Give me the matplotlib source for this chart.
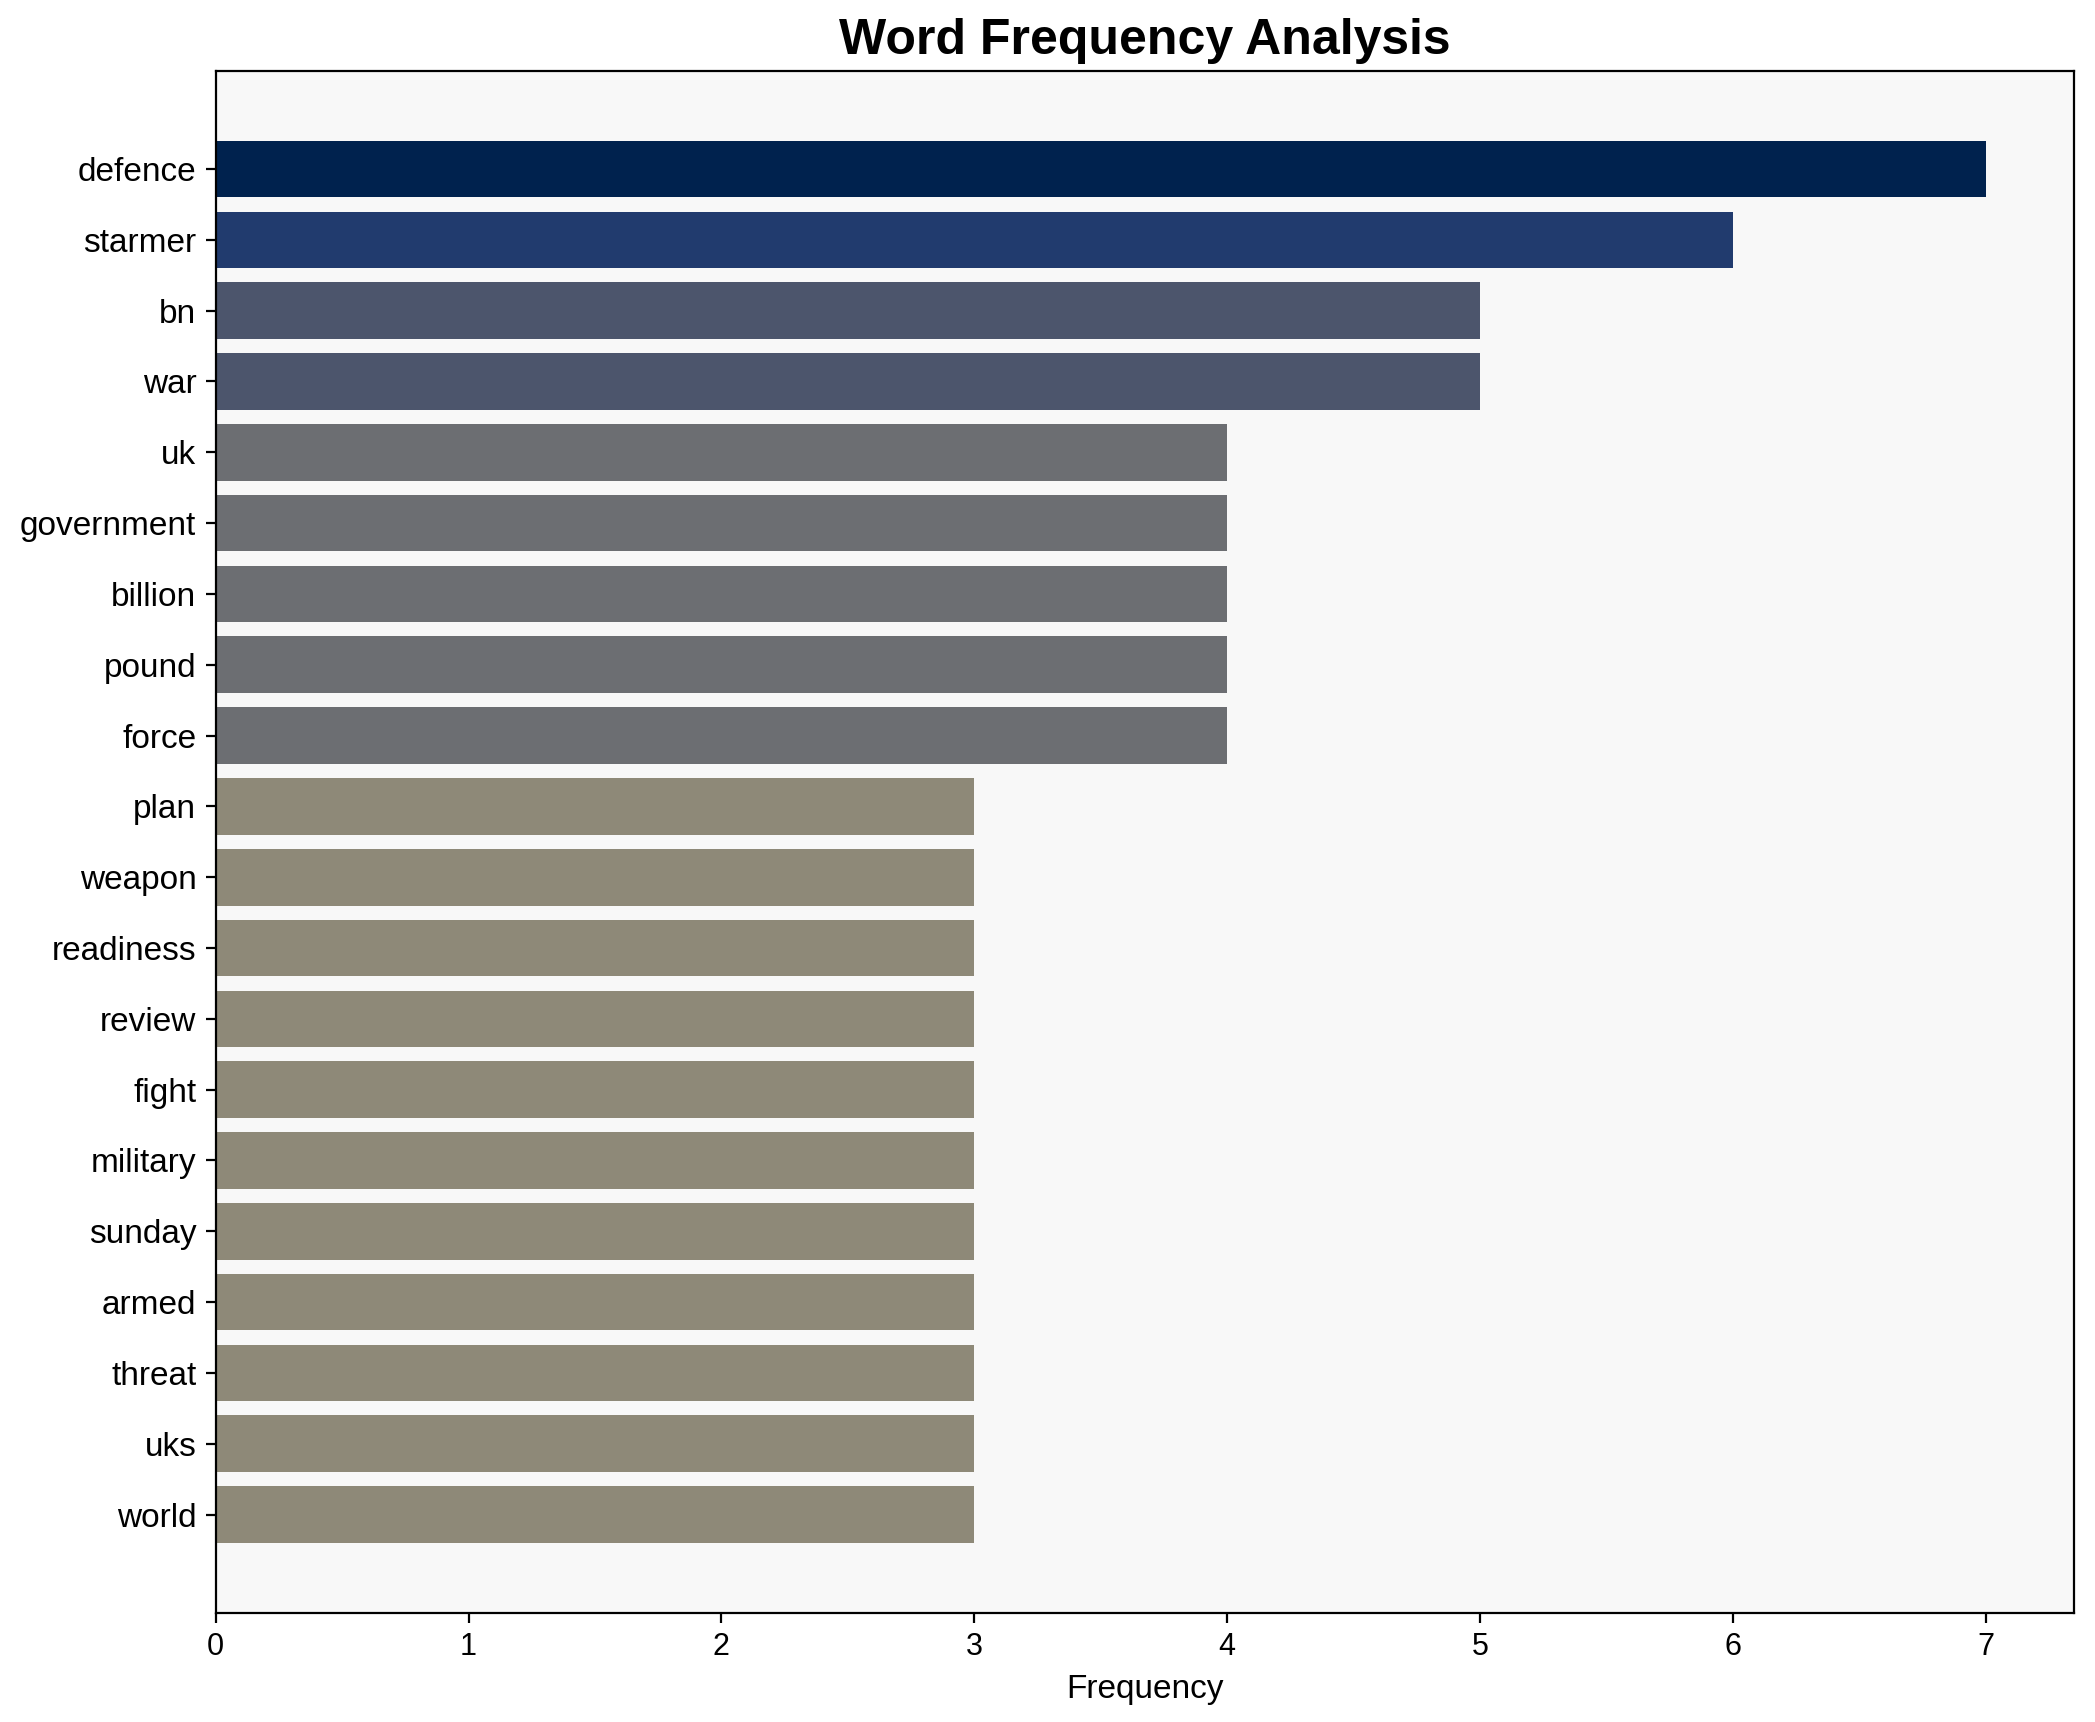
import matplotlib
matplotlib.use("Agg")
import matplotlib.pyplot as plt
import numpy as np

# word counts
words = ["defence", "starmer", "bn", "war", "uk", "government", "billion", "pound",
         "force", "plan", "weapon", "readiness", "review", "fight", "military",
         "sunday", "armed", "threat", "uks", "world"]
counts = [7, 6, 5, 5, 4, 4, 4, 4, 4, 3, 3, 3, 3, 3, 3, 3, 3, 3, 3, 3]

plt.rcParams['font.family'] = ['Liberation Sans', 'DejaVu Sans']

fig = plt.figure(figsize=(2095 / 200, 1722 / 200), dpi=200)
ax = fig.add_axes([0.103, 0.0633, 0.887, 0.8957])
ax.set_facecolor('#f8f8f8')

vals = np.array(counts)
colors = plt.cm.cividis(1 - vals / vals.max())
ypos = np.arange(len(words))
ax.barh(ypos, vals, color=colors, height=0.8)
ax.set_yticks(ypos)
ax.set_yticklabels(words, fontsize=12)
ax.invert_yaxis()
ax.tick_params(axis='x', labelsize=11)
ax.set_xlabel("Frequency", fontsize=12)
ax.set_title("Word Frequency Analysis", fontsize=18, fontweight='bold')

fig.savefig("out.png", dpi=200)
